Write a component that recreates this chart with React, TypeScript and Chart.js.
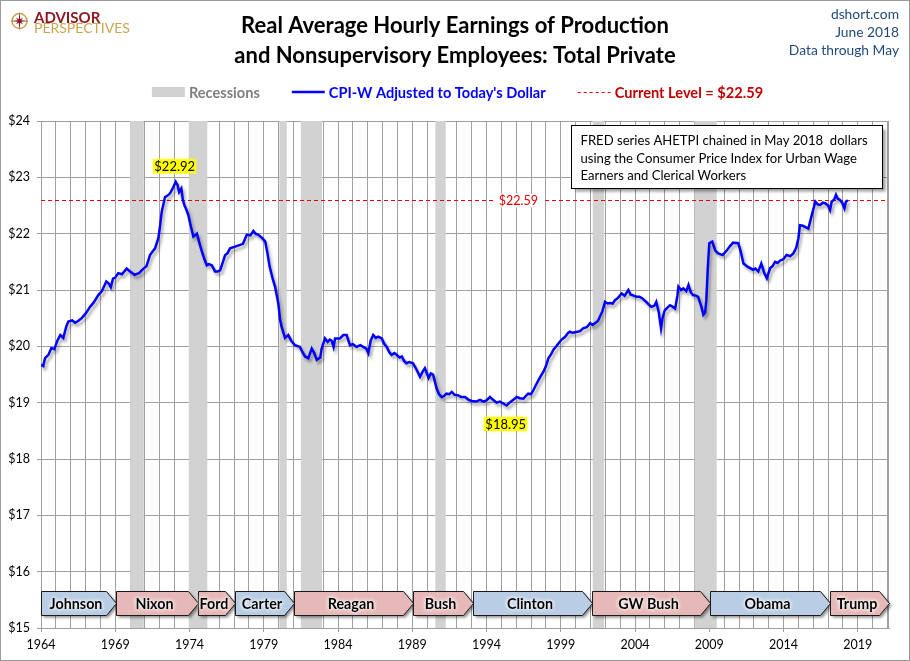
import React, { useEffect, useRef } from 'react';
import { Chart, registerables } from 'chart.js';
Chart.register(...registerables);

// ---- Data ----
const dates = [
  1964.0, 1964.15, 1964.27, 1964.5, 1964.7, 1964.9, 1965.1, 1965.3, 1965.5, 1965.7, 1965.84,
  1966.1, 1966.3, 1966.5, 1966.74, 1967.0, 1967.3, 1967.55, 1967.86, 1968.1, 1968.4, 1968.55,
  1968.7, 1968.85, 1969.0, 1969.2, 1969.45, 1969.77, 1970.0, 1970.3, 1970.6, 1970.9, 1971.1,
  1971.34, 1971.5, 1971.68, 1971.9, 1972.0, 1972.13, 1972.35, 1972.55, 1972.7, 1972.9, 1973.07,
  1973.2, 1973.3, 1973.45, 1973.55, 1973.65, 1973.8, 1973.92, 1974.1, 1974.26, 1974.5, 1974.65,
  1974.8, 1975.0, 1975.16, 1975.3, 1975.5, 1975.72, 1975.9, 1976.06, 1976.25, 1976.4, 1976.55,
  1976.73, 1977.07, 1977.4, 1977.6, 1977.85, 1978.1, 1978.3, 1978.45, 1978.64, 1978.9, 1979.1,
  1979.25, 1979.4, 1979.6, 1979.76, 1979.98, 1980.1, 1980.2, 1980.43, 1980.65, 1980.85, 1981.1,
  1981.44, 1981.6, 1981.78, 1982.0, 1982.23, 1982.4, 1982.57, 1982.8, 1982.9, 1983.12, 1983.3,
  1983.45, 1983.57, 1983.7, 1983.8, 1984.13, 1984.36, 1984.58, 1984.8, 1985.0, 1985.25, 1985.5,
  1985.7, 1985.9, 1986.04, 1986.2, 1986.37, 1986.55, 1986.7, 1986.95, 1987.1, 1987.28, 1987.45,
  1987.6, 1987.8, 1987.95, 1988.15, 1988.3, 1988.45, 1988.6, 1988.8, 1989.05, 1989.3, 1989.52,
  1989.7, 1989.85, 1990.1, 1990.25, 1990.4, 1990.64, 1990.8, 1990.98, 1991.15, 1991.3, 1991.5,
  1991.66, 1991.85, 1992.1, 1992.3, 1992.55, 1992.8, 1993.0, 1993.3, 1993.56, 1993.8, 1994.0,
  1994.23, 1994.45, 1994.68, 1994.9, 1995.1, 1995.36, 1995.55, 1995.8, 1996.03, 1996.25, 1996.48,
  1996.65, 1996.81, 1997.0, 1997.15, 1997.3, 1997.5, 1997.65, 1997.83, 1998.0, 1998.17, 1998.35,
  1998.5, 1998.7, 1998.84, 1999.06, 1999.29, 1999.5, 1999.62, 1999.8, 1999.96, 2000.3, 2000.5,
  2000.75, 2000.97, 2001.15, 2001.3, 2001.5, 2001.64, 2001.8, 2001.98, 2002.15, 2002.3, 2002.5,
  2002.65, 2002.85, 2003.1, 2003.3, 2003.55, 2003.7, 2003.9, 2004.1, 2004.3, 2004.5, 2004.75,
  2004.9, 2005.1, 2005.3, 2005.43, 2005.6, 2005.75, 2005.85, 2006.0, 2006.15, 2006.35, 2006.55,
  2006.7, 2006.85, 2006.92, 2007.1, 2007.25, 2007.45, 2007.6, 2007.75, 2007.9, 2008.1, 2008.25,
  2008.47, 2008.6, 2008.72, 2008.8, 2008.9, 2009.0, 2009.2, 2009.4, 2009.6, 2009.9, 2010.2,
  2010.4, 2010.6, 2010.95, 2011.1, 2011.3, 2011.6, 2011.95, 2012.1, 2012.3, 2012.5, 2012.7,
  2012.87, 2013.1, 2013.25, 2013.43, 2013.6, 2013.76, 2014.0, 2014.2, 2014.45, 2014.66, 2014.85,
  2015.0, 2015.1, 2015.3, 2015.45, 2015.67, 2015.9, 2016.14, 2016.3, 2016.47, 2016.65, 2016.8,
  2017.0, 2017.13, 2017.24, 2017.4, 2017.53, 2017.65, 2017.8, 2017.95, 2018.1, 2018.2, 2018.33,
];
const earnings = [
  19.67, 19.65, 19.79, 19.85, 19.97, 19.95, 20.1, 20.2, 20.15, 20.35, 20.44,
  20.46, 20.42, 20.45, 20.5, 20.58, 20.7, 20.78, 20.91, 20.98, 21.15, 21.12,
  21.05, 21.2, 21.22, 21.3, 21.28, 21.38, 21.33, 21.27, 21.3, 21.38, 21.42,
  21.62, 21.68, 21.74, 21.92, 22.1, 22.39, 22.65, 22.68, 22.72, 22.82, 22.92,
  22.86, 22.74, 22.8, 22.6, 22.51, 22.42, 22.33, 22.12, 21.95, 22.0, 21.85,
  21.71, 21.55, 21.44, 21.46, 21.44, 21.33, 21.33, 21.35, 21.5, 21.62, 21.65,
  21.74, 21.77, 21.8, 21.82, 21.98, 21.97, 22.05, 22.0, 21.98, 21.92, 21.86,
  21.65, 21.41, 21.2, 21.06, 20.76, 20.47, 20.35, 20.15, 20.2, 20.1, 20.02,
  19.99, 19.9, 19.82, 19.79, 19.96, 19.88, 19.76, 19.8, 19.96, 20.14, 20.08,
  20.12, 20.1, 19.99, 20.14, 20.14, 20.2, 20.2, 20.02, 20.04, 19.99, 20.02,
  19.99, 19.96, 19.88, 20.1, 20.2, 20.15, 20.17, 20.14, 20.05, 19.99, 19.9,
  19.85, 19.88, 19.85, 19.8, 19.82, 19.74, 19.7, 19.72, 19.7, 19.58, 19.46,
  19.55, 19.61, 19.44, 19.52, 19.5, 19.25, 19.15, 19.1, 19.12, 19.16, 19.15,
  19.19, 19.14, 19.13, 19.1, 19.1, 19.05, 19.03, 19.02, 19.05, 19.02, 19.04,
  19.1, 19.05, 19.0, 19.02, 18.99, 18.95, 19.0, 19.05, 19.1, 19.08, 19.07,
  19.12, 19.16, 19.15, 19.22, 19.3, 19.4, 19.47, 19.55, 19.65, 19.79, 19.86,
  19.94, 20.0, 20.05, 20.12, 20.17, 20.24, 20.26, 20.24, 20.25, 20.27, 20.32,
  20.34, 20.41, 20.38, 20.41, 20.45, 20.53, 20.62, 20.79, 20.76, 20.77, 20.76,
  20.82, 20.86, 20.94, 20.9, 21.0, 20.92, 20.9, 20.88, 20.88, 20.85, 20.79,
  20.75, 20.7, 20.72, 20.79, 20.6, 20.32, 20.5, 20.64, 20.68, 20.73, 20.7,
  20.67, 20.9, 21.06, 21.0, 21.03, 20.98, 21.09, 20.96, 20.91, 20.9, 20.88,
  20.7, 20.56, 20.6, 20.82, 21.4, 21.83, 21.86, 21.7, 21.65, 21.62, 21.71,
  21.78, 21.84, 21.83, 21.7, 21.47, 21.41, 21.36, 21.38, 21.33, 21.47, 21.3,
  21.21, 21.39, 21.42, 21.5, 21.48, 21.52, 21.55, 21.62, 21.6, 21.65, 21.75,
  21.92, 22.15, 22.14, 22.12, 22.09, 22.33, 22.57, 22.52, 22.51, 22.55, 22.54,
  22.5, 22.42, 22.57, 22.6, 22.69, 22.62, 22.6, 22.55, 22.45, 22.57, 22.59,
];
const currentLevel = 22.59;
const currentLabelAt = 1996.15;

const recessionStarts = [1970.0, 1973.95, 1980.05, 1981.5, 1990.55, 2001.15, 2008.0];
const recessionEnds = [1970.92, 1975.2, 1980.55, 1982.92, 1991.25, 2001.92, 2009.5];

const presidents = ['Johnson', 'Nixon', 'Ford', 'Carter', 'Reagan', 'Bush', 'Clinton', 'GW Bush', 'Obama', 'Trump'];
const termStarts = [1964.0, 1969.05, 1974.6, 1977.07, 1981.05, 1989.07, 1993.08, 2001.07, 2009.07, 2017.1];
const termEnds = [1969.05, 1974.6, 1977.07, 1981.05, 1989.07, 1993.08, 2001.07, 2009.07, 2017.1, 2021.1];
const parties = ['D', 'R', 'R', 'D', 'R', 'R', 'D', 'R', 'D', 'R'];
const arrowBandTop = 15.657;
const arrowBandBottom = 15.23;

const xMin = 1964;
const xMax = 2021.1;
const yTicks = [15, 16, 17, 18, 19, 20, 21, 22, 23, 24];

const titleLines = ['Real Average Hourly Earnings of Production', 'and Nonsupervisory Employees: Total Private'];
const sourceLines = ['dshort.com', 'June 2018', 'Data through May'];
const noteLines = [
  'FRED series AHETPI chained in May 2018  dollars',
  'using the Consumer Price Index for Urban Wage',
  'Earners and Clerical Workers',
];
const legendLabels = ['Recessions', "CPI-W Adjusted to Today's Dollar", 'Current Level = $22.59'];

const FONT = 'Lato, "Open Sans", "DejaVu Sans", sans-serif';
const GRID = '#a0a0a0';

function glowText(ctx: CanvasRenderingContext2D, text: string, x: number, y: number, glow: string, blur: number, color: string) {
  ctx.save();
  ctx.shadowColor = glow;
  ctx.shadowBlur = blur;
  ctx.fillStyle = glow;
  ctx.fillText(text, x, y);
  ctx.fillText(text, x, y);
  ctx.restore();
  ctx.fillStyle = color;
  ctx.fillText(text, x, y);
}

const decorPlugin = {
  id: 'decor',
  beforeDraw(chart: any) {
    const ctx = chart.ctx as CanvasRenderingContext2D;
    ctx.save();
    ctx.fillStyle = '#ffffff';
    ctx.fillRect(0, 0, chart.width, chart.height);
    ctx.restore();
  },
  beforeDatasetsDraw(chart: any) {
    const ctx = chart.ctx as CanvasRenderingContext2D;
    const xs = chart.scales.x;
    const ys = chart.scales.y;
    const area = chart.chartArea;
    ctx.save();
    // recessions
    ctx.fillStyle = '#d2d2d2';
    for (let i = 0; i < recessionStarts.length; i++) {
      const x0 = xs.getPixelForValue(recessionStarts[i]);
      const x1 = xs.getPixelForValue(recessionEnds[i]);
      ctx.fillRect(x0, area.top, x1 - x0, area.bottom - area.top);
    }
    // current level line
    const yc = Math.round(ys.getPixelForValue(currentLevel)) + 0.5;
    ctx.strokeStyle = '#e00000';
    ctx.lineWidth = 1;
    ctx.setLineDash([4, 3]);
    ctx.beginPath();
    ctx.moveTo(area.left, yc);
    ctx.lineTo(area.right, yc);
    ctx.stroke();
    ctx.setLineDash([]);
    // its label
    ctx.font = `12.5px ${FONT}`;
    const lbl = '$' + currentLevel.toFixed(2);
    const lx = xs.getPixelForValue(currentLabelAt);
    const w = ctx.measureText(lbl).width;
    ctx.fillStyle = '#ffffff';
    ctx.fillRect(lx - w / 2 - 5, yc - 7, w + 10, 14);
    ctx.fillStyle = '#e00000';
    ctx.textAlign = 'center';
    ctx.textBaseline = 'middle';
    ctx.fillText(lbl, lx, yc + 0.5);
    ctx.restore();
  },
  beforeDatasetDraw(chart: any) {
    const ctx = chart.ctx as CanvasRenderingContext2D;
    ctx.save();
    ctx.shadowColor = 'rgba(0,0,0,0.35)';
    ctx.shadowBlur = 3;
    ctx.shadowOffsetX = 2;
    ctx.shadowOffsetY = 3;
  },
  afterDatasetDraw(chart: any) {
    chart.ctx.restore();
  },
  afterDatasetsDraw(chart: any) {
    const ctx = chart.ctx as CanvasRenderingContext2D;
    const xs = chart.scales.x;
    const ys = chart.scales.y;
    const area = chart.chartArea;
    ctx.save();
    // right edge of plot
    ctx.strokeStyle = GRID;
    ctx.lineWidth = 1;
    ctx.beginPath();
    ctx.moveTo(Math.round(area.right) - 0.5, area.top);
    ctx.lineTo(Math.round(area.right) - 0.5, area.bottom);
    ctx.stroke();

    // president arrows
    const top = Math.round(ys.getPixelForValue(arrowBandTop)) + 0.5;
    const bot = Math.round(ys.getPixelForValue(arrowBandBottom)) + 0.5;
    const mid = (top + bot) / 2;
    const tip = 10;
    for (let i = 0; i < presidents.length; i++) {
      const x0 = Math.round(xs.getPixelForValue(termStarts[i])) + 0.5;
      const x1 = Math.round(xs.getPixelForValue(termEnds[i])) + 0.5;
      ctx.beginPath();
      ctx.moveTo(x0, top);
      ctx.lineTo(x1 - tip, top);
      ctx.lineTo(x1, mid);
      ctx.lineTo(x1 - tip, bot);
      ctx.lineTo(x0, bot);
      ctx.closePath();
      ctx.save();
      ctx.shadowColor = 'rgba(0,0,0,0.45)';
      ctx.shadowBlur = 3;
      ctx.shadowOffsetX = 2;
      ctx.shadowOffsetY = 2;
      ctx.fillStyle = parties[i] === 'D' ? '#b9cde5' : '#e6b9b8';
      ctx.fill();
      ctx.restore();
      ctx.strokeStyle = '#1a1a1a';
      ctx.lineWidth = 1;
      ctx.stroke();
      ctx.font = `bold 14.3px ${FONT}`;
      ctx.textAlign = 'center';
      ctx.textBaseline = 'middle';
      glowText(ctx, presidents[i], (x0 + x1 - tip) / 2 + 2, mid + 1, '#ffffff', 4, '#000000');
    }

    // peak / trough labels
    let iMax = 0;
    let iMin = 0;
    for (let i = 0; i < earnings.length; i++) {
      if (earnings[i] > earnings[iMax]) iMax = i;
      if (earnings[i] < earnings[iMin]) iMin = i;
    }
    ctx.font = `13px ${FONT}`;
    ctx.textAlign = 'center';
    ctx.textBaseline = 'middle';
    const drawHi = (i: number, dy: number) => {
      const px = xs.getPixelForValue(dates[i]) - 1;
      const py = ys.getPixelForValue(earnings[i]) + dy;
      const t = '$' + earnings[i].toFixed(2);
      const w = ctx.measureText(t).width;
      ctx.save();
      ctx.shadowColor = '#ffff00';
      ctx.shadowBlur = 3;
      ctx.fillStyle = '#ffff00';
      ctx.fillRect(px - w / 2 - 1, py - 7, w + 2, 14);
      ctx.restore();
      ctx.fillStyle = '#000000';
      ctx.fillText(t, px, py + 0.5);
    };
    drawHi(iMax, -15.5);
    drawHi(iMin, 18.5);

    // note box
    const bx = 571.5, by = 125.5, bw = 311, bh = 63;
    ctx.save();
    ctx.shadowColor = 'rgba(0,0,0,0.4)';
    ctx.shadowBlur = 3;
    ctx.shadowOffsetX = 3;
    ctx.shadowOffsetY = 3;
    ctx.fillStyle = '#ffffff';
    ctx.fillRect(bx, by, bw, bh);
    ctx.restore();
    ctx.strokeStyle = '#000000';
    ctx.lineWidth = 1;
    ctx.strokeRect(bx, by, bw, bh);
    ctx.font = `13.1px ${FONT}`;
    ctx.textAlign = 'left';
    ctx.textBaseline = 'alphabetic';
    ctx.fillStyle = '#000000';
    noteLines.forEach((l, k) => ctx.fillText(l, 580.5, 145 + k * 17.5));
    ctx.restore();
  },
  afterDraw(chart: any) {
    const ctx = chart.ctx as CanvasRenderingContext2D;
    ctx.save();
    // title
    ctx.fillStyle = '#000000';
    ctx.font = `bold 22px ${FONT}`;
    ctx.textAlign = 'center';
    ctx.textBaseline = 'alphabetic';
    ctx.fillText(titleLines[0], 455, 33);
    ctx.fillText(titleLines[1], 455, 63);
    // source
    ctx.font = `13.8px ${FONT}`;
    ctx.textAlign = 'right';
    ctx.fillStyle = '#1f497d';
    sourceLines.forEach((l, k) => ctx.fillText(l, 899, 18.5 + k * 18));
    // logo
    const cx = 19.5, cy = 21;
    ctx.strokeStyle = '#c9a54e';
    ctx.lineWidth = 1.6;
    ctx.beginPath();
    ctx.arc(cx, cy, 7.5, 0, Math.PI * 2);
    ctx.stroke();
    ctx.fillStyle = '#8b1a24';
    ctx.beginPath();
    for (let k = 0; k < 8; k++) {
      const ang = (k * Math.PI) / 4 - Math.PI / 2;
      const r = k % 2 === 0 ? 9.5 : 5;
      const ang2 = ang + Math.PI / 8;
      ctx.lineTo(cx + r * Math.cos(ang), cy + r * Math.sin(ang));
      ctx.lineTo(cx + 2 * Math.cos(ang2), cy + 2 * Math.sin(ang2));
    }
    ctx.closePath();
    ctx.fill();
    ctx.textAlign = 'left';
    ctx.font = `bold 15px ${FONT}`;
    ctx.fillStyle = '#8b1a24';
    ctx.fillText('ADVISOR', 34, 22.5);
    ctx.font = `14px ${FONT}`;
    ctx.fillStyle = '#c9a54e';
    ctx.fillText('PERSPECTIVES', 34, 33);

    // legend
    ctx.font = `bold 14.6px ${FONT}`;
    const sw = 33, g1 = 4, g2 = 32;
    const widths = legendLabels.map((l) => ctx.measureText(l).width);
    const total = widths.reduce((a, b) => a + b, 0) + 3 * (sw + g1) + 2 * g2;
    let x = 457.5 - total / 2;
    const ly = 92;
    ctx.textBaseline = 'middle';
    // recessions swatch
    ctx.fillStyle = '#d2d2d2';
    ctx.fillRect(x, ly - 5, sw, 10);
    x += sw + g1;
    ctx.fillStyle = '#808080';
    ctx.fillText(legendLabels[0], x, ly + 1);
    x += widths[0] + g2;
    ctx.strokeStyle = '#0000ff';
    ctx.lineWidth = 2.5;
    ctx.beginPath();
    ctx.moveTo(x, ly);
    ctx.lineTo(x + sw, ly);
    ctx.stroke();
    x += sw + g1;
    ctx.fillStyle = '#0000ff';
    ctx.fillText(legendLabels[1], x, ly + 1);
    x += widths[1] + g2;
    ctx.strokeStyle = '#e00000';
    ctx.lineWidth = 1.2;
    ctx.setLineDash([3, 3]);
    ctx.beginPath();
    ctx.moveTo(x, ly + 0.5);
    ctx.lineTo(x + sw, ly + 0.5);
    ctx.stroke();
    ctx.setLineDash([]);
    x += sw + g1;
    ctx.fillStyle = '#c00000';
    ctx.fillText(legendLabels[2], x, ly + 1);

    // outer frame
    ctx.strokeStyle = '#9a9a9a';
    ctx.lineWidth = 1;
    ctx.strokeRect(0.5, 0.5, chart.width - 1, chart.height - 1);
    ctx.restore();
  },
};

export default function App() {
  const ref = useRef<HTMLCanvasElement | null>(null);
  useEffect(() => {
    if (!ref.current) return;
    const chart = new Chart(ref.current, {
      type: 'scatter',
      data: {
        datasets: [
          {
            label: legendLabels[1],
            data: dates.map((d, i) => ({ x: d, y: earnings[i] })),
            showLine: true,
            borderColor: '#0000ff',
            borderWidth: 2.5,
            pointRadius: 0,
            pointHoverRadius: 0,
            tension: 0,
          },
        ],
      },
      options: {
        animation: false,
        responsive: false,
        events: [],
        layout: { padding: { top: 121, right: 21, left: 0, bottom: 0 } },
        plugins: { legend: { display: false }, tooltip: { enabled: false }, title: { display: false } },
        scales: {
          x: {
            type: 'linear',
            min: xMin,
            max: xMax,
            afterFit: (s: any) => {
              s.height = 33;
            },
            ticks: {
              stepSize: 1,
              autoSkip: false,
              includeBounds: false,
              maxRotation: 0,
              minRotation: 0,
              padding: 5,
              color: '#000000',
              font: { family: FONT, size: 12.5 },
              callback: (v: any) => ((Number(v) - xMin) % 5 === 0 ? String(v) : ''),
            },
            grid: {
              color: GRID,
              lineWidth: 1,
              tickLength: 4,
              tickColor: (c: any) => (c.tick && (c.tick.value - xMin) % 5 === 0 ? GRID : 'rgba(0,0,0,0)'),
            },
            border: { display: true, color: GRID },
          },
          y: {
            type: 'linear',
            min: yTicks[0],
            max: yTicks[yTicks.length - 1],
            afterFit: (s: any) => {
              s.width = 41;
            },
            afterBuildTicks: (s: any) => {
              s.ticks = yTicks.map((v) => ({ value: v }));
            },
            ticks: {
              padding: 7,
              color: '#000000',
              font: { family: FONT, size: 12.5 },
              callback: (v: any) => '$' + v,
            },
            grid: { color: GRID, lineWidth: 1, tickLength: 4, tickColor: GRID },
            border: { display: true, color: GRID },
          },
        },
      },
      plugins: [decorPlugin],
    });
    return () => chart.destroy();
  }, []);
  return (
    <div style={{ position: 'absolute', left: 0, top: 0, width: 910, height: 661 }}>
      <canvas ref={ref} width={910} height={661} style={{ width: 910, height: 661, display: 'block' }} />
    </div>
  );
}
